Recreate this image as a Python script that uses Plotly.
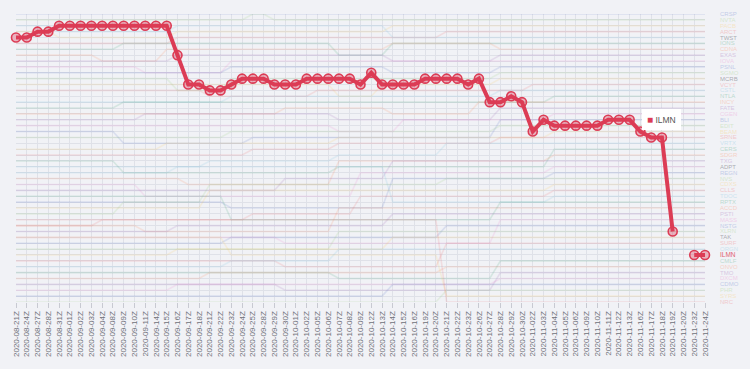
import plotly.graph_objects as go

dates = [
    "2020-08-21Z", "2020-08-24Z", "2020-08-27Z", "2020-08-28Z", "2020-08-31Z",
    "2020-09-01Z", "2020-09-02Z", "2020-09-03Z", "2020-09-04Z", "2020-09-08Z",
    "2020-09-09Z", "2020-09-10Z", "2020-09-11Z", "2020-09-14Z", "2020-09-15Z",
    "2020-09-16Z", "2020-09-17Z", "2020-09-18Z", "2020-09-21Z", "2020-09-22Z",
    "2020-09-23Z", "2020-09-24Z", "2020-09-25Z", "2020-09-28Z", "2020-09-29Z",
    "2020-09-30Z", "2020-10-01Z", "2020-10-02Z", "2020-10-05Z", "2020-10-06Z",
    "2020-10-07Z", "2020-10-08Z", "2020-10-09Z", "2020-10-12Z", "2020-10-13Z",
    "2020-10-14Z", "2020-10-15Z", "2020-10-16Z", "2020-10-19Z", "2020-10-20Z",
    "2020-10-21Z", "2020-10-22Z", "2020-10-23Z", "2020-10-26Z", "2020-10-27Z",
    "2020-10-28Z", "2020-10-29Z", "2020-10-30Z", "2020-11-02Z", "2020-11-03Z",
    "2020-11-04Z", "2020-11-05Z", "2020-11-06Z", "2020-11-09Z", "2020-11-10Z",
    "2020-11-11Z", "2020-11-12Z", "2020-11-13Z", "2020-11-16Z", "2020-11-17Z",
    "2020-11-18Z", "2020-11-19Z", "2020-11-20Z", "2020-11-23Z", "2020-11-24Z",
]

ilmn_rank = [5, 5, 4, 4, 3, 3, 3, 3, 3, 3, 3, 3, 3, 3, 3,
             8, 13, 13, 14, 14, 13, 12, 12, 12, 13, 13, 13,
             12, 12, 12, 12, 12, 13, 11, 13, 13, 13, 13,
             12, 12, 12, 12, 13, 12, 16, 16, 15, 16, 21, 19,
             20, 20, 20, 20, 20, 19, 19, 19, 21, 22, 22, 38, None, 42, 42]

# background tickers: (rank, number of days) runs
bg_names = ["CRSP", "NVTA", "PACB", "ARCT", "TWST", "IONS", "CDNA", "EXAS", "IOVA",
            "PSNL", "SGMO", "MCRB", "VCYT", "CSTL", "NTLA", "INCY", "FATE", "CGEN",
            "BLI", "EDIT", "BEAM", "SRNE", "VRTX", "CERS", "SDGR", "TXG", "ADPT",
            "REGN", "NVS", "CDXS", "CLLS", "TDOC", "RPTX", "ACCD", "PSTI", "MASS",
            "NSTG", "XLRN", "TAK", "SURF", "ORGN", "CMLF", "ONVO", "TMO", "DXCM",
            "CDMO", "PHR", "SYRS", "NRC"]
bg_runs = [
    [(1, 65)],
    [(2, 22), (1, 2), (2, 41)],
    [(4, 4), (5, 11), (4, 20), (3, 30)],
    [(6, 15), (5, 25), (4, 25)],
    [(3, 4), (4, 11), (3, 20), (5, 30)],
    [(7, 10), (6, 20), (8, 5), (6, 30)],
    [(8, 8), (9, 6), (7, 21), (6, 10), (7, 20)],
    [(9, 15), (8, 20), (9, 10), (8, 20)],
    [(10, 12), (11, 8), (9, 45)],
    [(11, 20), (10, 15), (11, 10), (10, 20)],
    [(12, 15), (14, 5), (12, 25), (11, 20)],
    [(13, 30), (15, 4), (13, 11), (12, 20)],
    [(14, 18), (15, 10), (14, 20), (13, 17)],
    [(16, 20), (15, 25), (14, 20)],
    [(17, 10), (16, 30), (16, 10), (15, 15)],
    [(18, 25), (17, 10), (18, 8), (16, 22)],
    [(19, 12), (18, 18), (19, 15), (17, 20)],
    [(20, 30), (21, 6), (19, 14), (18, 15)],
    [(21, 10), (23, 12), (22, 23), (19, 20)],
    [(22, 20), (21, 15), (21, 10), (20, 20)],
    [(24, 14), (23, 16), (22, 20), (21, 15)],
    [(25, 22), (24, 8), (23, 15), (22, 20)],
    [(27, 18), (26, 12), (25, 10), (23, 25)],
    [(26, 10), (28, 20), (27, 20), (24, 15)],
    [(29, 16), (30, 14), (26, 20), (25, 15)],
    [(31, 25), (29, 10), (26, 30)],
    [(30, 12), (32, 20), (28, 18), (27, 15)],
    [(33, 20), (34, 15), (29, 15), (28, 15)],
    [(35, 10), (33, 8), (30, 22), (29, 25)],
    [(34, 18), (31, 17), (31, 15), (30, 15)],
    [(36, 22), (35, 10), (32, 18), (31, 15)],
    [(28, 15), (27, 20), (33, 15), (32, 15)],
    [(32, 20), (36, 25), (33, 20)],
    [(37, 12), (38, 18), (34, 35)],
    [(38, 15), (37, 20), (35, 30)],
    [(39, 25), (40, 20), (36, 20)],
    [(40, 20), (39, 20), (37, 25)],
    [(41, 30), (38, 35)],
    [(42, 15), (41, 20), (39, 30)],
    [(43, 25), (44, 15), (40, 25)],
    [(44, 20), (43, 10), (41, 35)],
    [(45, 30), (46, 15), (43, 20)],
    [(46, 18), (45, 22), (44, 25)],
    [(47, 25), (48, 20), (45, 20)],
    [(48, 15), (47, 30), (46, 20)],
    [(49, 35), (47, 30)],
    [(50, 40), (48, 25)],
    [(39, 20), (42, 20), (49, 25)],
    [(37, 8), (36, 32), (50, 25)],
]
gray_labels = {"TWST", "MCRB", "ADPT", "TAK"}

palette = ["#5470c6", "#91cc75", "#fac858", "#ee6666", "#73c0de",
           "#3ba272", "#fc8452", "#9a60b4", "#ea7ccc"]
RED = "#dc3c55"

W, H = 750, 369
L, R, T, B = 15, 45, 14, 61
NMAX = 50

x = list(range(len(dates)))
fig = go.Figure()
annotations = []

for k, (name, runs) in enumerate(zip(bg_names, bg_runs)):
    ys = []
    for v, n in runs:
        ys += [v] * n
    col = palette[k % len(palette)]
    fig.add_trace(go.Scatter(x=x, y=ys, mode="lines",
                             line=dict(color=col, width=1.6),
                             opacity=0.15, cliponaxis=False, showlegend=False))
    annotations.append(dict(x=x[-1], y=ys[-1], xref="x", yref="y", text=name,
                            showarrow=False, xanchor="left", xshift=13,
                            font=dict(size=6, family="Liberation Sans",
                                      color="rgba(120,120,130,0.6)" if name in gray_labels
                                      else col),
                            opacity=1 if name in gray_labels else 0.3))

fig.add_trace(go.Scatter(x=x, y=ilmn_rank, mode="lines+markers",
                         line=dict(color=RED, width=4), connectgaps=False,
                         marker=dict(size=9, color="rgba(220,60,85,0.35)",
                                     line=dict(color=RED, width=1.6)),
                         cliponaxis=False, showlegend=False))
annotations.append(dict(x=x[-1], y=ilmn_rank[-1], xref="x", yref="y", text="ILMN",
                        showarrow=False, xanchor="left", xshift=13,
                        font=dict(size=6.5, family="Liberation Sans", color="#e06070")))

# tooltip-like box
bx, by = 661, 121.5
annotations.append(dict(x=(bx - L) / (W - L - R), y=(H - B - by) / (H - T - B),
                        xref="paper", yref="paper", xanchor="center", yanchor="middle",
                        showarrow=False,
                        text="<span style='color:%s;font-size:10px'>■</span> ILMN" % RED,
                        font=dict(size=8.5, family="Liberation Sans", color="#555"),
                        bgcolor="white", borderpad=5, borderwidth=0))

fig.update_layout(
    width=W, height=H,
    margin=dict(l=L, r=R, t=T, b=B),
    paper_bgcolor="#f1f2f6", plot_bgcolor="#f1f2f6",
    hovermode=False,
    annotations=annotations,
    xaxis=dict(range=[0, len(dates) - 1], tickmode="array", tickvals=x, ticktext=dates,
               tickangle=-90, showgrid=True, gridcolor="#dfe1e8", gridwidth=1,
               ticks="outside", ticklen=5, tickcolor="#c8cad2",
               tickfont=dict(size=8, family="Liberation Sans", color="#6e7079"),
               zeroline=False, showline=False),
    yaxis=dict(range=[NMAX, 1], tickmode="linear", tick0=1, dtick=1,
               showticklabels=False, showgrid=True, gridcolor="#dfe1e8", gridwidth=1,
               zeroline=False, showline=False),
)

fig.write_html("out.html")
